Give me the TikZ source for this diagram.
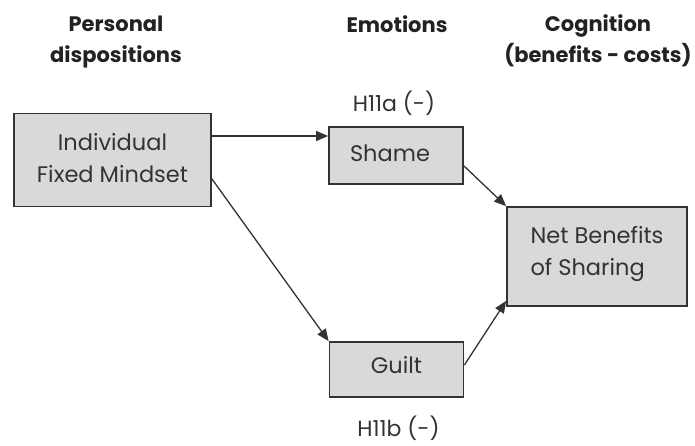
\documentclass[tikz,border=0pt]{standalone}
\usepackage{fontspec}
\setmainfont{Poppins}
\usetikzlibrary{arrows.meta}
\definecolor{boxfill}{HTML}{D9D9D9}
\definecolor{ink}{HTML}{333333}
\definecolor{headink}{HTML}{222222}
\begin{document}
\begin{tikzpicture}[x=1pt,y=-1pt,
  box/.style={draw=ink,line width=1.8pt,fill=boxfill,text=ink,inner sep=0pt,
    text depth=0pt,font=\fontsize{22.5}{32}\selectfont},
  head/.style={text=headink,align=center,anchor=base,font=\fontsize{21}{31}\selectfont\bfseries},
  hyp/.style={text=ink,anchor=base,font=\fontsize{22}{26}\selectfont},
  link/.style={draw=ink,line width=1.3pt,-{Triangle[length=12pt,width=10pt]}}]
\useasboundingbox (0,0) rectangle (695,445);
% column headings
\node[head] (hpers) at (116,62) {Personal\\dispositions};
\node[head] (hemo) at (397,32) {Emotions};
\node[head] (hcog) at (598,62) {Cognition\\(benefits - costs)};
% boxes
\node[box,minimum width=197pt,minimum height=93pt,align=center,text height=44pt] (ifm) at (112.5,160) {Individual\\Fixed Mindset};
\node[box,minimum width=134pt,minimum height=57pt,text height=11pt] (shame) at (396,155.5) {\hspace*{-12pt}Shame};
\node[box,minimum width=134pt,minimum height=55pt,text height=7pt] (guilt) at (396.5,369.5) {Guilt};
\node[box,minimum width=180pt,minimum height=99pt,align=left,text height=37pt] (net) at (597,256.5) {Net Benefits\\of Sharing};
% hypothesis labels
\node[hyp] (ha) at (394,111) {H11a (-)};
\node[hyp] (hb) at (398.5,436) {H11b (-)};
% paths
\draw[link] (ifm.east |- 0,136) -- (shame.west |- 0,136);
\draw[link] ([yshift=28.5pt]ifm.south east) -- (guilt.north west);
\draw[link] ([yshift=19pt]shame.south east) -- (net.north west);
\draw[link] ([yshift=4.5pt]guilt.east) -- ([yshift=6pt]net.south west);
\end{tikzpicture}
\end{document}
